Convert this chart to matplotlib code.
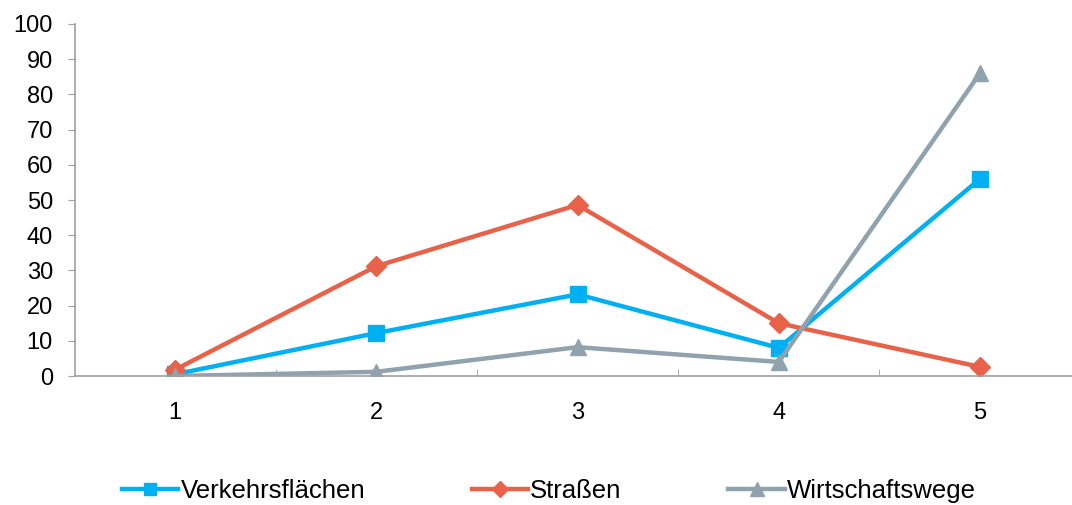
import matplotlib
matplotlib.use("Agg")
import matplotlib.pyplot as plt
import numpy as np

categories = ["1", "2", "3", "4", "5"]
verkehrsflaechen = [0.5, 12.2, 23.2, 8.0, 56.0]
strassen = [1.8, 31.2, 48.6, 15.0, 2.6]
wirtschaftswege = [0.0, 1.2, 8.2, 4.0, 86.0]

plt.rcParams["font.family"] = ["Liberation Sans", "DejaVu Sans"]

fig = plt.figure(figsize=(10.72, 5.05), dpi=100)
ax = fig.add_axes([0.0695, 0.2554, 0.9385, 0.6971])

x = np.arange(1, len(categories) + 1)
ax.plot(x, verkehrsflaechen, color="#00B0F0", lw=3.2, marker="s", ms=11,
        label="Verkehrsflächen")
ax.plot(x, strassen, color="#E8624A", lw=3.2, marker="D", ms=10,
        label="Straßen")
ax.plot(x, wirtschaftswege, color="#8FA2AE", lw=3.2, marker="^", ms=12,
        label="Wirtschaftswege")

ax.set_xlim(0.5, 5.5)
ax.set_ylim(0, 100)
ax.set_yticks(range(0, 101, 10))
ax.set_xticks(x)
ax.set_xticklabels(categories)
ax.set_xticks(np.arange(1.5, 5.5, 1), minor=True)
ax.tick_params(axis="x", which="major", length=0, labelsize=17, pad=19)
ax.tick_params(axis="x", which="minor", length=5, color="#A0A0A0", direction="in")
ax.tick_params(axis="y", length=5, color="#A0A0A0", labelsize=17, pad=10.5)

for side in ["top", "right"]:
    ax.spines[side].set_visible(False)
for side in ["left", "bottom"]:
    ax.spines[side].set_color("#A0A0A0")
    ax.spines[side].set_linewidth(1.2)

fig.legend(loc="center", bbox_to_anchor=(0.512, 0.028), ncol=3, frameon=False,
           fontsize=18.5, handlelength=2.2, handletextpad=0.08, columnspacing=4.15,
           markerscale=0.85)

fig.savefig("out.png", dpi=100)
